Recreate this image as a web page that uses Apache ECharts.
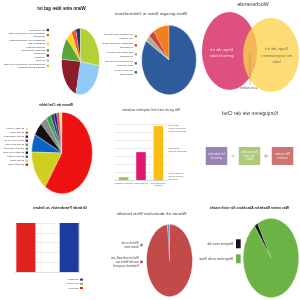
<!DOCTYPE html>
<html><head><meta charset="utf-8">
<script src="https://cdn.jsdelivr.net/npm/echarts@6/dist/echarts.min.js"></script>
<style>
html,body{margin:0;padding:0;background:#fff;}
#wrap{position:relative;width:300px;height:300px;overflow:hidden;transform:scaleX(-1);}
#main{position:absolute;left:0;top:0;width:300px;height:300px;}
.pie{position:absolute;}
</style></head><body>
<div id="wrap"><div id="main"></div></div>
<script>
// ---------------- DATA ----------------
const chartTitles = ['Wann eine Idee gut ist','Meist gesagte Sätze in Unternehmen','Wochenende','Warum der Chef fehlte','Wie gut ich mich mit Computern auskenne','Konjugieren wie der Chef','Gründe Frankreich zu lieben','Warum ich deutschen Wein bestelle','Was meine Bachelor Abschluss für mich macht'];

const ideaNames = ['Ein Mixbecken','Beteiligung von Mixbecken (sehr\neingesetzt)','Beteiligung von Salbenaktivisten\nan Bohnen des\nSoldatenmengen','Ebenfalls anwesende','Gutachter\nder Firma','Ihr Chef','Beteiligung von Mixbecken (von Chef\nNächste später entfernt)'];
const ideaValues = [4, 4, 5, 11, 22, 27, 27];

const phraseNames = ['Wir müssen das Rad nicht\nneu erfinden','Das haben wir schon immer\nso gemacht','Das haben wir noch nie\nso gemacht','Da muss ich erst mit dem\nChef sprechen','Wir sitzen alle im\nselben Boot'];
const phraseValues = [9.5, 3.5, 2.8, 0, 84.2];

const vennSets = ['Dinge, die ich\ngemacht habe','Dinge, die ich\nmir vorgenommen\nhabe'];
const vennOverlap = 'ausschlafen';

const bossNames = ['Er hatte Hunger','Er war müde','Er hat verschlafen','Seine Frau rief an','Er war beim Golf','Der Zug kam spät','Er hatte keine Lust','Es war Montag','Er war krank','Er wollte nicht'];
const bossValues = [1.6, 1.4, 1.4, 1.7, 2.5, 3.6, 5.3, 7, 16, 59];

const compCategories = ['Facebook und\nYouTube','E-Mails lesen','Drucker einrichten'];
const compValues = [6.8, 3.5, 0.35];
const compNoteLevels = [6.5, 3.75, 0.5];
const compNotes = ['Ich bin ein\nComputer-Genie\n(sagt meine Oma)','Ich komme\nirgendwie zurecht','Ich habe keine\nAhnung, wovon\ndu redest'];

const flowSlots = ['Schritt 1','Pfeil 1','Schritt 2','Pfeil 2','Schritt 3'];
const flowSteps = ['Wir werden\nmachen','Sie machten\nSie sich\nließen','Ich habe das\ngemacht'];

const flagCategories = ['Blau','Weiß','Rot'];
const flagNames = ['Das Blaue','Das Weiße','Das Rote'];
const flagValues = [5, 5, 5];

const wineNames = ['Weil ich es mir\nleisten kann','Weil ich nicht weiß, wie\nman die Weine aus\nFrankreich ausspricht'];
const wineValues = [1.5, 98.5];

const degreeNames = ['Bringt mir einen Job','Hängt schön an der Wand'];
const degreeValues = [2, 98];

// ---------------- STYLES ----------------
const FONT = '"Liberation Sans", Arial, sans-serif';
const ideaColors = ['#253A7A','#F05A28','#FFD42A','#57A639','#8B1C2C','#8FCBF5','#B3D135'];
const phraseColors = ['#F07F1E','#D6413B','#A3B48A','#8064A2','#2D5B9B'];
const bossColors = ['#F6E27A','#E04070','#1C1F5E','#4B2A82','#2FA84F','#8A8A8A','#111111','#0A64C8','#CFCF1F','#EE1111'];
const compColors = ['#FDBE13','#E0176B','#96C84A'];
const flowColors = ['#C0504D','#9BBB59','#8064A2'];
const flowArrowColors = ['#E2AAA8','#CFDEB0'];
const flagBarColors = ['#1E3C9E','rgba(255,255,255,0)','#E2211C'];
const flagLegendColors = ['#1E3C9E','#9BBB59','#E2211C'];
const wineColors = ['#6F8FBF','#C24A48'];
const degreeColors = ['#151515','#6BB344'];

// ---------------- LAYOUT ----------------
const titleLayout = [[238.5,5.6,4.6,1],[149,10.8,4.4,0],[47,1.4,5.4,0],[244,103.4,3.2,1],[149,108.6,3.1,0],[50,110.6,5,0],[240,205.2,4,1],[148.5,210.8,4.4,0],[50.5,206.4,3.5,1]];
const pieA = {cx:219.5, cy:61.5, a:19, b:33.5};
const pieB = {cx:130.5, cy:60, a:27.5, b:35};
const pieD = {cx:237.5, cy:152.5, a:30.5, b:41};
const pieH = {cx:130, cy:260, a:23.3, b:36.7};
const pieI = {cx:29, cy:258, a:28, b:40};
const ELLIPSE = 'path://M0,50A50,50,0,1,1,100,50A50,50,0,1,1,0,50Z';
const ARROW = 'path://M0,3L5,3L5,0L10,5L5,10L5,7L0,7Z';

const wrap = document.getElementById('wrap');

function ellipsePie(g, names, values, colors, startAngle) {
  const size = Math.round(g.b * 2);
  const d = document.createElement('div');
  d.className = 'pie';
  d.style.width = size + 'px';
  d.style.height = size + 'px';
  d.style.left = (g.cx - size / 2) + 'px';
  d.style.top = (g.cy - size / 2) + 'px';
  d.style.transform = 'scaleX(' + (g.a / g.b) + ')';
  d.style.transformOrigin = '50% 50%';
  wrap.appendChild(d);
  const ch = echarts.init(d);
  ch.setOption({
    animation: false,
    series: [{
      type: 'pie', silent: true, radius: size / 2 - 0.3, center: ['50%', '50%'],
      startAngle: startAngle, clockwise: true,
      label: {show: false}, labelLine: {show: false},
      itemStyle: {borderColor: '#fff', borderWidth: 0.35},
      data: names.map((n, i) => ({name: n, value: values[i], itemStyle: {color: colors[i]}}))
    }]
  });
}

function legendPie(g, names, values, colors) {
  return {
    type: 'pie', silent: true, radius: 0, center: [g.cx, g.cy],
    label: {show: false}, labelLine: {show: false},
    data: names.map((n, i) => ({name: n, value: values[i], itemStyle: {color: colors[i]}}))
  };
}

function legend(data, left, top, o) {
  const t = Object.assign({fontSize: 2.5, lineHeight: 3.4, color: '#404040', fontFamily: FONT, padding: [0, 0, 0, -3.5]}, o.text || {});
  return {
    orient: 'vertical', left: left, top: top, padding: 0, icon: 'rect', selectedMode: false,
    itemGap: o.gap || 0, itemWidth: o.w || 2.4, itemHeight: o.h || 2.4,
    data: data, textStyle: t
  };
}

const main = echarts.init(document.getElementById('main'));
const option = {
  animation: false,
  textStyle: {fontFamily: FONT},
  title: chartTitles.map((t, i) => ({
    text: t, left: titleLayout[i][0], top: titleLayout[i][1], textAlign: 'center', padding: 0,
    textStyle: {fontSize: titleLayout[i][2], fontWeight: titleLayout[i][3] ? 'bold' : 'normal',
      color: titleLayout[i][3] ? '#1a1a1a' : '#3a3a3a', fontFamily: FONT, lineHeight: titleLayout[i][2] * 1.15}
  })),
  legend: [
    legend(ideaNames, 251, 28.3, {}),
    legend(phraseNames, 163, 33, {gap: 2.4, text: {lineHeight: 3.3}}),
    legend(bossNames, 272, 127, {gap: 0.6}),
    legend(flagNames.map((n, i) => ({name: n, itemStyle: {color: flagLegendColors[i]}})), 217, 277.5, {w: 3, h: 2, text: {fontSize: 2.4, lineHeight: 4.2}}),
    legend(wineNames, 157.3, 241, {gap: 7, w: 2.5, h: 2.5, text: {fontSize: 2.7, lineHeight: 4}}),
    legend(degreeNames, 59.3, 239.3, {gap: 6, w: 4.7, h: 9, text: {fontSize: 2.9, lineHeight: 4, padding: [0, 0, 0, -2]}})
  ],
  grid: [
    {left: 133, top: 124.3, width: 52, height: 55.7, containLabel: false, outerBoundsMode: 'none'},
    {left: 220, top: 223, width: 65, height: 49, containLabel: false, outerBoundsMode: 'none'},
    {left: 0, top: 0, width: 100, height: 100, containLabel: false, outerBoundsMode: 'none'},
    {left: 9.25, top: 147, width: 82.5, height: 18, containLabel: false, outerBoundsMode: 'none'}
  ],
  xAxis: [
    {gridIndex: 0, type: 'category', data: compCategories, axisTick: {show: false},
      axisLine: {lineStyle: {color: '#bfbfbf', width: 0.5}},
      axisLabel: {interval: 0, fontSize: 2.3, lineHeight: 2.9, color: '#595959', margin: 1.5, fontFamily: FONT}},
    {gridIndex: 1, type: 'category', data: flagCategories, axisTick: {show: false}, axisLabel: {show: false},
      axisLine: {lineStyle: {color: '#d0d0d0', width: 0.5}}},
    {gridIndex: 2, type: 'value', min: 0, max: 100, show: false},
    {gridIndex: 3, type: 'category', data: flowSlots, show: false}
  ],
  yAxis: [
    {gridIndex: 0, type: 'value', min: 0, max: 7, interval: 0.25, position: 'left',
      splitLine: {show: false}, axisLine: {show: false}, axisTick: {show: false},
      axisLabel: {fontSize: 2.3, lineHeight: 3, color: '#595959', margin: 1.5, fontFamily: FONT,
        formatter: v => { const k = compNoteLevels.findIndex(l => Math.abs(l - v) < 1e-6); return k < 0 ? '' : compNotes[k]; }}},
    {gridIndex: 0, type: 'value', min: 0, max: 7, interval: 1, position: 'left',
      splitLine: {lineStyle: {color: '#d9d9d9', width: 0.5}}, axisLine: {show: false}, axisTick: {show: false}, axisLabel: {show: false}},
    {gridIndex: 2, type: 'value', min: 0, max: 100, inverse: true, show: false},
    {gridIndex: 3, type: 'category', data: ['Prozess'], show: false},
    {gridIndex: 1, type: 'value', min: 0, max: 5, interval: 1,
      splitLine: {lineStyle: {color: '#d9d9d9', width: 0.5}}, axisLine: {show: true, lineStyle: {color: '#c8c8c8', width: 0.5}},
      axisTick: {show: false}, axisLabel: {show: false}}
  ],
  series: [
    {type: 'bar', xAxisIndex: 0, yAxisIndex: 1, barWidth: 9.5, silent: true,
      data: compValues.map((v, i) => ({value: v, itemStyle: {color: compColors[i]}}))},
    ...flagNames.map((n, i) => ({
      type: 'bar', name: n, xAxisIndex: 1, yAxisIndex: 4, barWidth: 19, barGap: '-100%', silent: true,
      itemStyle: {color: flagBarColors[i]},
      data: flagValues.map((v, j) => (j === i ? v : '-'))
    })),
    {type: 'scatter', xAxisIndex: 2, yAxisIndex: 2, silent: true, symbol: ELLIPSE, z: 2,
      data: [{value: [70.5, 51], symbolSize: [55, 78], itemStyle: {color: '#D6245E'},
        label: {show: true, position: 'inside', offset: [7.8, 1.7], formatter: vennSets[0], color: '#fff', fontSize: 3.8, lineHeight: 6.5, fontFamily: FONT}}]},
    {type: 'scatter', xAxisIndex: 2, yAxisIndex: 2, silent: true, symbol: ELLIPSE, z: 3,
      data: [{value: [29, 55], symbolSize: [56, 74], itemStyle: {color: '#FCD24C', opacity: 0.78},
        label: {show: true, position: 'inside', offset: [-5.7, 0.7], formatter: vennSets[1], color: '#505050', fontSize: 3.8, lineHeight: 6.5, fontFamily: FONT}}]},
    {type: 'line', xAxisIndex: 2, yAxisIndex: 2, silent: true, symbol: 'none', z: 4,
      lineStyle: {color: '#808080', width: 0.5}, data: [[50, 53], [50, 85]]},
    {type: 'scatter', xAxisIndex: 2, yAxisIndex: 2, silent: true, symbolSize: 0.01, z: 4,
      itemStyle: {color: 'rgba(0,0,0,0)'},
      data: [{value: [51, 88], label: {show: true, position: 'inside', formatter: vennOverlap, color: '#404040', fontSize: 3.4, fontFamily: FONT}}]},
    {type: 'scatter', xAxisIndex: 3, yAxisIndex: 3, silent: true, symbol: 'rect', symbolSize: [21.5, 18],
      data: flowSteps.map((t, i) => ({value: [i * 2, 0], itemStyle: {color: flowColors[i]},
        label: {show: true, position: 'inside', formatter: t, color: '#fff', fontSize: 3, lineHeight: 3.6, fontFamily: FONT}}))},
    {type: 'scatter', xAxisIndex: 3, yAxisIndex: 3, silent: true, symbol: ARROW, symbolSize: [4.2, 5.5],
      data: flowArrowColors.map((c, i) => ({value: [i * 2 + 1, 0], itemStyle: {color: c}}))},
    legendPie(pieA, ideaNames, ideaValues, ideaColors),
    legendPie(pieB, phraseNames, phraseValues, phraseColors),
    legendPie(pieD, bossNames, bossValues, bossColors),
    legendPie(pieH, wineNames, wineValues, wineColors),
    legendPie(pieI, degreeNames, degreeValues, degreeColors)
  ]
};
main.setOption(option);

ellipsePie(pieA, ideaNames, ideaValues, ideaColors, 90);
ellipsePie(pieB, phraseNames, phraseValues, phraseColors, 90);
ellipsePie(pieD, bossNames, bossValues, bossColors, 90);
ellipsePie(pieH, wineNames, wineValues, wineColors, 90);
ellipsePie(pieI, degreeNames, degreeValues, degreeColors, 61);
</script>
</body></html>
